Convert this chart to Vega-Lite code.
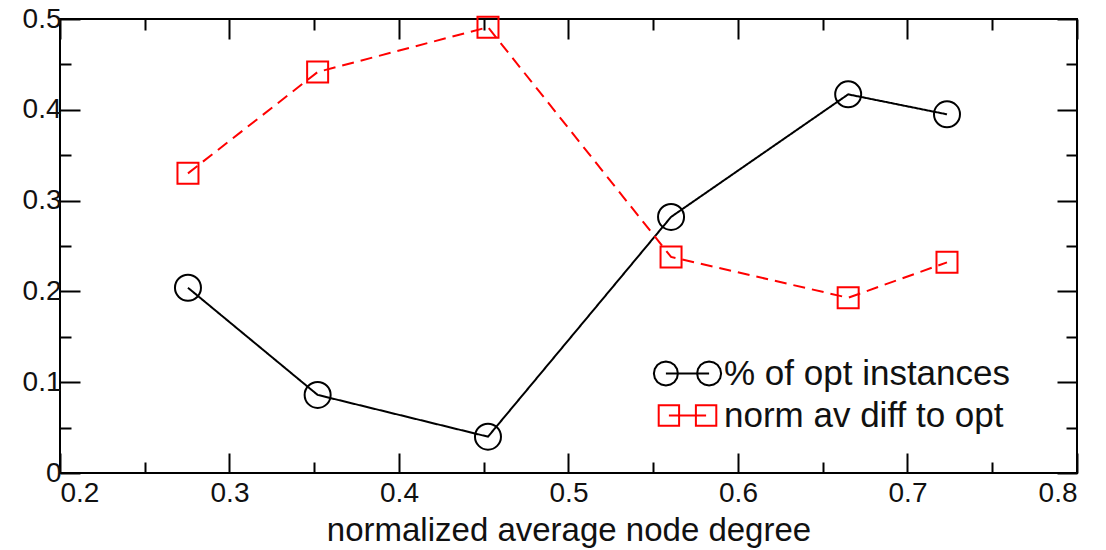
{
  "$schema": "https://vega.github.io/schema/vega-lite/v6.json",
  "width": 1017,
  "height": 454,
  "autosize": {"type": "none"},
  "padding": {"left": 60, "top": 19, "right": 29, "bottom": 77},
  "background": "white",
  "config": {
    "view": {"stroke": "#000", "strokeWidth": 2},
    "font": "Liberation Sans",
    "axis": {
      "grid": false,
      "domain": false,
      "tickColor": "#000",
      "tickWidth": 2,
      "labelFont": "Liberation Sans",
      "labelFontSize": 28,
      "labelColor": "#111",
      "titleFont": "Liberation Sans",
      "titleFontSize": 33,
      "titleFontWeight": "normal",
      "titleColor": "#111"
    },
    "legend": {
      "orient": "none",
      "legendX": 610,
      "legendY": 337,
      "padding": 0,
      "rowPadding": 6,
      "symbolSize": 576,
      "symbolStrokeWidth": 2,
      "symbolFillColor": "transparent",
      "symbolOpacity": 1,
      "labelFont": "Liberation Sans",
      "labelFontSize": 35,
      "labelColor": "#111",
      "labelOffset": 19,
      "labelLimit": 600
    }
  },
  "data": {
    "values": [
      {"x": 0.2755, "y": 0.204, "series": "% of opt instances"},
      {"x": 0.352, "y": 0.086, "series": "% of opt instances"},
      {"x": 0.4525, "y": 0.04, "series": "% of opt instances"},
      {"x": 0.5605, "y": 0.282, "series": "% of opt instances"},
      {"x": 0.665, "y": 0.417, "series": "% of opt instances"},
      {"x": 0.7233, "y": 0.395, "series": "% of opt instances"},
      {"x": 0.2755, "y": 0.33, "series": "norm av diff to opt"},
      {"x": 0.352, "y": 0.4416, "series": "norm av diff to opt"},
      {"x": 0.4525, "y": 0.491, "series": "norm av diff to opt"},
      {"x": 0.5605, "y": 0.238, "series": "norm av diff to opt"},
      {"x": 0.665, "y": 0.193, "series": "norm av diff to opt"},
      {"x": 0.7233, "y": 0.232, "series": "norm av diff to opt"}
    ]
  },
  "resolve": {"axis": {"x": "independent", "y": "independent"}},
  "layer": [
    {
      "mark": {"type": "line", "strokeWidth": 2, "clip": true},
      "encoding": {
        "x": {
          "field": "x", "type": "quantitative",
          "scale": {"domain": [0.2, 0.8], "nice": false, "zero": false},
          "axis": {
            "orient": "bottom",
            "values": [0.2, 0.25, 0.3, 0.35, 0.4, 0.45, 0.5, 0.55, 0.6, 0.65, 0.7, 0.75, 0.8],
            "labelExpr": "round(datum.value*20)%2==0 ? format(datum.value, '~g') : ''",
            "tickSize": {"condition": {"test": "round(datum.value*20)%2==0", "value": -20}, "value": -11},
            "labelPadding": 26,
            "labelFontSize": 28,
            "title": "normalized average node degree",
            "titleBaseline": "alphabetic",
            "titleY": 67
          }
        },
        "y": {
          "field": "y", "type": "quantitative",
          "scale": {"domain": [0, 0.5], "nice": false},
          "axis": {
            "orient": "left",
            "values": [0, 0.05, 0.1, 0.15, 0.2, 0.25, 0.3, 0.35, 0.4, 0.45, 0.5],
            "labelExpr": "round(datum.value*20)%2==0 ? format(datum.value, '~g') : ''",
            "tickSize": {"condition": {"test": "round(datum.value*20)%2==0", "value": -20}, "value": -11},
            "labelPadding": 19,
            "labelFontSize": 28,
            "title": null
          }
        },
        "color": {
          "field": "series", "type": "nominal",
          "scale": {"domain": ["% of opt instances", "norm av diff to opt"], "range": ["#000000", "#ff0000"]},
          "title": null
        },
        "strokeDash": {"condition": {"test": "datum.series == 'norm av diff to opt'", "value": [12, 7]}, "value": [1, 0]}
      }
    },
    {
      "mark": {"type": "point", "filled": false, "strokeWidth": 2, "opacity": 1},
      "encoding": {
        "x": {"field": "x", "type": "quantitative", "axis": null},
        "y": {"field": "y", "type": "quantitative", "axis": null},
        "color": {"field": "series", "type": "nominal", "title": null},
        "shape": {"condition": {"test": "datum.series == 'norm av diff to opt'", "value": "square"}, "value": "circle"},
        "size": {"condition": {"test": "datum.series == 'norm av diff to opt'", "value": 441}, "value": 676}
      }
    },
    {
      "transform": [{"filter": "datum.x < 0"}],
      "mark": {"type": "point", "filled": false, "strokeWidth": 2},
      "encoding": {
        "x": {
          "field": "x", "type": "quantitative",
          "axis": {
            "orient": "top",
            "values": [0.2, 0.25, 0.3, 0.35, 0.4, 0.45, 0.5, 0.55, 0.6, 0.65, 0.7, 0.75, 0.8],
            "labels": false,
            "tickSize": {"condition": {"test": "round(datum.value*20)%2==0", "value": -20}, "value": -11},
            "title": null
          }
        },
        "y": {
          "field": "y", "type": "quantitative",
          "axis": {
            "orient": "right",
            "values": [0, 0.05, 0.1, 0.15, 0.2, 0.25, 0.3, 0.35, 0.4, 0.45, 0.5],
            "labels": false,
            "tickSize": {"condition": {"test": "round(datum.value*20)%2==0", "value": -20}, "value": -11},
            "title": null
          }
        },
        "color": {"field": "series", "type": "nominal", "title": null},
        "shape": {
          "field": "series", "type": "nominal", "title": null,
          "scale": {
            "domain": ["% of opt instances", "norm av diff to opt"],
            "range": [
              "M-0.8,0 L-0.876,0.383 L-1.093,0.707 L-1.417,0.924 L-1.8,1 L-2.183,0.924 L-2.507,0.707 L-2.724,0.383 L-2.8,0 L-2.724,-0.383 L-2.507,-0.707 L-2.183,-0.924 L-1.8,-1 L-1.417,-0.924 L-1.093,-0.707 L-0.876,-0.383 Z M-1.8,0 L1.8,0 M2.8,0 L2.724,0.383 L2.507,0.707 L2.183,0.924 L1.8,1 L1.417,0.924 L1.093,0.707 L0.876,0.383 L0.8,0 L0.876,-0.383 L1.093,-0.707 L1.417,-0.924 L1.8,-1 L2.183,-0.924 L2.507,-0.707 L2.724,-0.383 Z",
              "M-2.4,-0.85 L-0.7,-0.85 L-0.7,0.85 L-2.4,0.85 Z M-1.55,0 L1.55,0 M0.7,-0.85 L2.4,-0.85 L2.4,0.85 L0.7,0.85 Z"
            ]
          }
        }
      }
    }
  ]
}
